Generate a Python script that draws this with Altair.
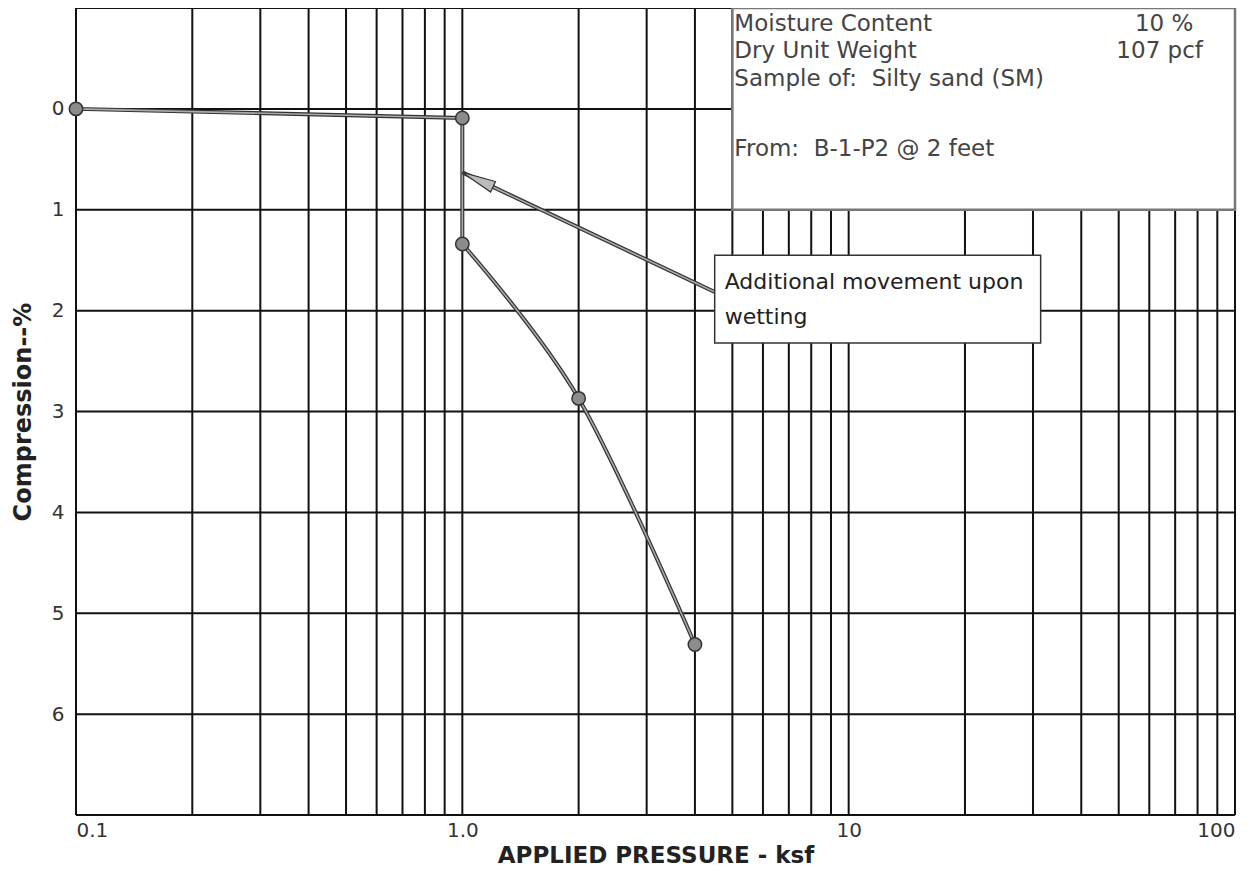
import altair as alt
import pandas as pd

# ---- data ----
pressure = [0.1, 1.0, 1.0, 2.0, 4.0]          # ksf
compression = [0.0, 0.09, 1.34, 2.87, 5.31]   # %
segment = ["dry", "dry", "wet", "wet", "wet"]

x_grid = [0.1, 0.2, 0.3, 0.4, 0.5, 0.6, 0.7, 0.8, 0.9,
          1, 2, 3, 4, 5, 6, 7, 8, 9,
          10, 20, 30, 40, 50, 60, 70, 80, 90, 100]
y_grid = [-1, 0, 1, 2, 3, 4, 5, 6, 7]
x_ticks = [0.1, 1, 10, 100]
y_ticks = [0, 1, 2, 3, 4, 5, 6]

NB = "\u00a0"
info_labels = ["Moisture Content", "Dry Unit Weight",
               "Sample of:" + NB + NB + "Silty sand (SM)", "From:" + NB + NB + "B-1-P2 @ 2 feet"]
info_label_y = [-0.84, -0.57, -0.30, 0.40]
info_values = ["10 %", "107 pcf"]
info_value_x = [78, 82.6]
info_value_y = [-0.84, -0.57]
info_box_x = [5, 100]
info_box_y = [-1, 1]

note_lines = ["Additional movement upon", "wetting"]
note_line_y = [1.72, 2.06]
note_box_x = [4.5, 31.4]
note_box_y = [1.45, 2.32]
arrow_x = [4.5, 1.0]
arrow_y = [1.815, 0.63]

# ---- shared scales / axes ----
FONT = "DejaVu Sans"
XS = alt.Scale(type="log", domain=[0.1, 100], nice=False)
YS = alt.Scale(domain=[-1, 7], reverse=True, nice=False, zero=False)
XA = alt.Axis(values=x_ticks, labelExpr="datum.value == 1 ? '1.0' : format(datum.value, '~g')",
              grid=False, ticks=False, tickSize=0, domain=False, labelFlush=True,
              labelFont=FONT, labelFontSize=20, labelColor="#333",
              labelPadding=5, title="APPLIED PRESSURE - ksf", titleFont=FONT,
              titleFontSize=23, titleFontWeight="bold", titleColor="#222", titlePadding=4)
YA = alt.Axis(values=y_ticks, grid=False, ticks=False, tickSize=0, domain=False,
              labelFont=FONT, labelFontSize=20, labelColor="#333",
              labelPadding=12, title="Compression--%", titleFont=FONT,
              titleFontSize=24, titleFontWeight="bold", titleColor="#222", titlePadding=16)


def X(field):
    return alt.X(f"{field}:Q", scale=XS, axis=XA)


def Y(field):
    return alt.Y(f"{field}:Q", scale=YS, axis=YA)


df = pd.DataFrame({"p": pressure, "c": compression, "seg": segment})

vgrid = alt.Chart(pd.DataFrame({"p": x_grid})).mark_rule(color="#111", strokeWidth=2).encode(x=X("p"))
hgrid = alt.Chart(pd.DataFrame({"c": y_grid})).mark_rule(color="#111", strokeWidth=2).encode(y=Y("c"))

info_box = alt.Chart(pd.DataFrame({"p": [info_box_x[0]], "p2": [info_box_x[1]],
                                   "c": [info_box_y[0]], "c2": [info_box_y[1]]})).mark_rect(
    fill="white", stroke="#777", strokeWidth=2.5).encode(x=X("p"), x2="p2", y=Y("c"), y2="c2")

info_text = alt.Chart(pd.DataFrame({"p": [info_box_x[0]] * len(info_labels), "c": info_label_y,
                                    "t": info_labels})).mark_text(
    align="left", baseline="middle", dx=2, font=FONT, fontSize=23, color="#444").encode(
    x=X("p"), y=Y("c"), text="t:N")

info_vals = alt.Chart(pd.DataFrame({"p": info_value_x, "c": info_value_y,
                                    "t": info_values})).mark_text(
    align="right", baseline="middle", font=FONT, fontSize=23, color="#444").encode(
    x=X("p"), y=Y("c"), text="t:N")

dry = df[df.seg == "dry"].copy()
wet_v = df.iloc[[1, 2]].copy()
wet = df[df.seg == "wet"].copy()


def two_tone(data, interp):
    base = alt.Chart(data)
    dark = base.mark_line(color="#333", strokeWidth=4, interpolate=interp).encode(x=X("p"), y=Y("c"))
    light = base.mark_line(color="#aaa", strokeWidth=1.6, interpolate=interp).encode(x=X("p"), y=Y("c"))
    return dark + light


line1 = two_tone(dry, "linear")
line2 = two_tone(wet_v, "linear")
line3 = two_tone(wet, "cardinal")

points = alt.Chart(df).mark_point(filled=True, size=180, fill="#8c8c8c", stroke="#333",
                                  strokeWidth=1.5, opacity=1).encode(x=X("p"), y=Y("c"))

arrow_df = pd.DataFrame({"p": arrow_x, "c": arrow_y})
arrow = two_tone(arrow_df, "linear")
head = alt.Chart(arrow_df.iloc[[1]]).mark_point(
    shape="M0,0 L-0.17,1 L0.17,1 Z", size=4600, angle=295, filled=True,
    fill="#bbb", stroke="#333", strokeWidth=1.2, opacity=1).encode(x=X("p"), y=Y("c"))

note_box = alt.Chart(pd.DataFrame({"p": [note_box_x[0]], "p2": [note_box_x[1]],
                                   "c": [note_box_y[0]], "c2": [note_box_y[1]]})).mark_rect(
    fill="white", stroke="#333", strokeWidth=1.5).encode(x=X("p"), x2="p2", y=Y("c"), y2="c2")

note_text = alt.Chart(pd.DataFrame({"p": [note_box_x[0]] * 2, "c": note_line_y, "t": note_lines})).mark_text(
    align="left", baseline="middle", dx=10, font=FONT, fontSize=22, color="#222").encode(
    x=X("p"), y=Y("c"), text="t:N")

chart = alt.layer(
    vgrid, hgrid, info_box, info_text, info_vals,
    line1, line2, line3, points, arrow, head, note_box, note_text
).properties(
    width=1159, height=807,
    padding={"left": 68, "top": 0, "right": 12, "bottom": 56},
    autosize=alt.AutoSizeParams(type="none"),
).configure_view(stroke="#555", strokeWidth=3).configure(background="white")

chart.save("out.html", embed_options={"renderer": "svg", "actions": False})
